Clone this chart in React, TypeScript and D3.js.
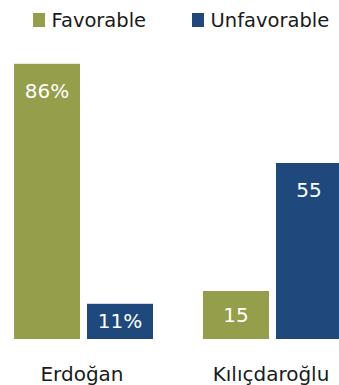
import React from "react";
import * as d3 from "d3";

const categories = ["Erdoğan", "Kılıçdaroğlu"];
const series = ["Favorable", "Unfavorable"];
const favorable = [86, 15];
const unfavorable = [11, 55];
const valueLabels = [["86%", "11%"], ["15", "55"]];
const colors = ["#959e4a", "#1f497d"];

const W = 339;
const H = 385;
const FONT = "'DejaVu Sans', sans-serif";

export default function App() {
  const x0 = d3.scaleBand<string>().domain(categories).range([14, 342]).paddingInner(50 / 189).paddingOuter(0);
  const x1 = d3.scaleBand<string>().domain(series).range([0, x0.bandwidth()]).paddingInner(7 / 73).paddingOuter(0);
  const y = d3.scaleLinear().domain([0, 100]).range([339, 19]);
  const data = [favorable, unfavorable];

  return (
    <svg width={W} height={H} style={{ position: "absolute", left: 0, top: 0, background: "#fff" }}>
      {/* legend */}
      <g>
        <rect x={33} y={13} width={12} height={14} fill={colors[0]} />
        <text x={51.5} y={26.7} fontFamily={FONT} fontSize={19.5} fill="#1a1a1a">{series[0]}</text>
        <rect x={192} y={13} width={12} height={14} fill={colors[1]} />
        <text x={210.5} y={26.7} fontFamily={FONT} fontSize={19.5} fill="#1a1a1a">{series[1]}</text>
      </g>
      {categories.map((c, ci) => (
        <g key={c}>
          {series.map((s, si) => {
            const v = data[si][ci];
            const x = (x0(c) as number) + (x1(s) as number);
            const top = y(v);
            const h = y(0) - top;
            const base = top + Math.min(34, h / 2 + 7);
            return (
              <g key={s}>
                <rect x={x} y={top} width={x1.bandwidth()} height={h} fill={colors[si]} />
                <text x={x + x1.bandwidth() / 2} y={base} textAnchor="middle" fontFamily={FONT} fontSize={20} fill="#fff">
                  {valueLabels[ci][si]}
                </text>
              </g>
            );
          })}
          <text x={(x0(c) as number) + x0.bandwidth() / 2 - 1.5} y={381} textAnchor="middle" fontFamily={FONT} fontSize={20} fill="#1a1a1a">
            {c}
          </text>
        </g>
      ))}
    </svg>
  );
}
